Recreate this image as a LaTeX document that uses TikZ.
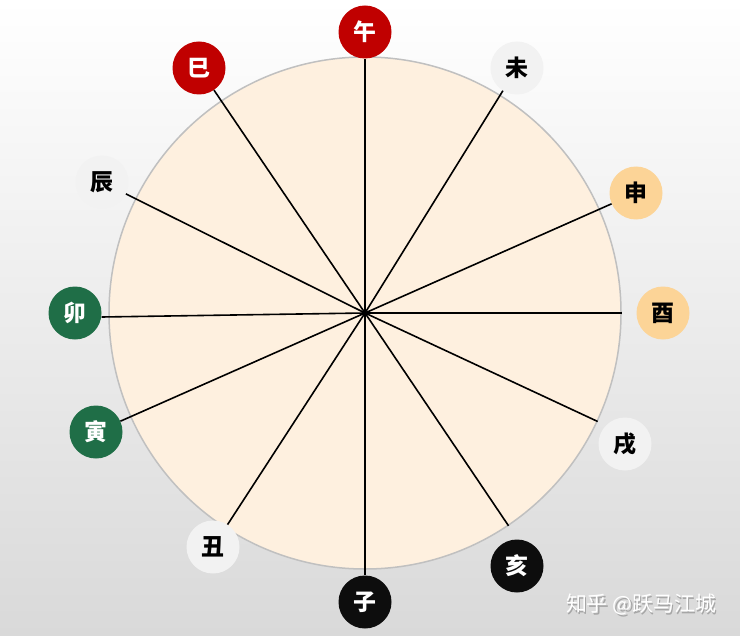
\documentclass[tikz,border=0pt]{standalone}
\usepackage{fontspec}
\newfontfamily\cjk{Noto Sans CJK SC}
\definecolor{zired}{HTML}{C00000}
\definecolor{zigreen}{HTML}{1F6E47}
\definecolor{ziorange}{HTML}{FCD497}
\definecolor{zigray}{HTML}{F2F2F2}
\definecolor{ziblack}{HTML}{0D0D0D}
\definecolor{peach}{HTML}{FEF0DF}
\definecolor{rimgray}{HTML}{C0C0C0}
\definecolor{bgmid}{HTML}{F0F0F0}
\definecolor{bgbottom}{HTML}{D9D9D9}
\tikzstyle{ball} = [circle, minimum size=53bp, inner sep=0pt, font=\cjk\bfseries\fontsize{23}{23}\selectfont]
\tikzstyle{redball} = [ball, fill=zired, text=white]
\tikzstyle{greenball} = [ball, fill=zigreen, text=white]
\tikzstyle{orangeball} = [ball, fill=ziorange, text=black]
\tikzstyle{grayball} = [ball, fill=zigray, text=black]
\tikzstyle{blackball} = [ball, fill=ziblack, text=white]
\tikzstyle{spoke} = [line width=1.6bp, black]
\begin{document}
\begin{tikzpicture}[x=1bp, y=-1bp]

\shade [top color=white, middle color=bgmid, bottom color=bgbottom] (0,0) rectangle (740,636);
\useasboundingbox (0,0) rectangle (740,636);

% the dial
\node (dial) [circle, minimum size=512bp, inner sep=0pt, fill=peach, draw=rimgray, line width=1.5bp] at (365,313) {};
\coordinate (hub) at (365,313);

% the twelve branches
\node (wu) [redball] at (365,32) {午};
\node (wei) [grayball] at (517,68) {未};
\node (shen) [orangeball] at (636,193) {申};
\node (you) [orangeball] at (663,313) {酉};
\node (xu) [grayball] at (625,444) {戌};
\node (hai) [blackball] at (517,566) {亥};
\node (zi) [blackball] at (365,602) {子};
\node (chou) [grayball] at (213,547) {丑};
\node (yin) [greenball] at (96,432) {寅};
\node (mao) [greenball] at (75,313) {卯};
\node (chen) [grayball] at (102,182) {辰};
\node (si) [redball] at (199,68) {巳};

\draw [spoke] (hub) -- (wu);
\draw [spoke] (hub) -- (wei);
\draw [spoke] (hub) -- (shen);
\draw [spoke] (hub) -- (dial.0);
\draw [spoke] (hub) -- (dial.-25);
\draw [spoke] (hub) -- (dial.-56.5);
\draw [spoke] (hub) -- (zi);
\draw [spoke] (hub) -- (chou);
\draw [spoke] (hub) -- (yin);
\draw [spoke] (hub) -- ([yshift=-4bp]mao.east);
\draw [spoke] (hub) -- (chen);
\draw [spoke] (hub) -- (si);

% watermark
\node (markshadow) [text=gray!70, font=\cjk\fontsize{21}{21}\selectfont] at (642.5,606.5) {知乎 @跃马江城};
\node (mark) [text=white, font=\cjk\fontsize{21}{21}\selectfont] at (641,605) {知乎 @跃马江城};
\end{tikzpicture}
\end{document}
